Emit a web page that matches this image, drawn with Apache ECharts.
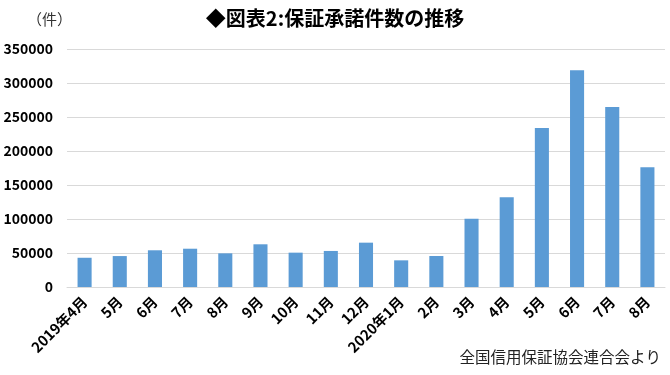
<!DOCTYPE html>
<html><head><meta charset="utf-8">
<script src="https://cdn.jsdelivr.net/npm/echarts@6/dist/echarts.min.js"></script>
<style>html,body{margin:0;padding:0;background:#fff}#c{width:670px;height:375px}</style>
</head><body><div id="c"></div>
<script>
const categories = ['2019年4月','5月','6月','7月','8月','9月','10月','11月','12月','2020年1月','2月','3月','4月','5月','6月','7月','8月'];
const values = [43000,45500,54000,56300,49500,62800,50500,53000,65200,39200,45600,100500,131900,233800,318600,264700,176000];
const yTicks = [0,50000,100000,150000,200000,250000,300000,350000];
const titleText = '◆図表2:保証承諾件数の推移';
const unitText = '（件）';
const sourceText = '全国信用保証協会連合会より';
const F = '"Noto Sans CJK JP", "Noto Sans", sans-serif';
const chart = echarts.init(document.getElementById('c'), null, {renderer:'canvas'});
chart.setOption({
  animation:false,
  backgroundColor:'#fff',
  title:[
    {text:titleText, left:'center', top:3, textStyle:{fontFamily:F, fontSize:20, fontWeight:'bold', color:'#000'}},
    {text:unitText, left:22, top:7, textStyle:{fontFamily:F, fontSize:15, fontWeight:'normal', color:'#333'}},
    {text:sourceText, right:4, bottom:5, textStyle:{fontFamily:F, fontSize:15.5, fontWeight:'normal', color:'#222'}}
  ],
  grid:{left:67, right:5, top:49, bottom:88, containLabel:false},
  xAxis:{type:'category', data:categories,
    axisLine:{lineStyle:{color:'#d9d9d9'}}, axisTick:{show:false},
    axisLabel:{rotate:45, interval:0, margin:12, fontFamily:F, fontSize:14.5, fontWeight:'bold', color:'#000'}},
  yAxis:{type:'value', min:yTicks[0], max:yTicks[yTicks.length-1], interval:50000,
    axisLine:{show:false}, axisTick:{show:false},
    splitLine:{lineStyle:{color:'#d9d9d9', width:1}},
    axisLabel:{margin:14, fontFamily:F, fontSize:14, fontWeight:'bold', color:'#000', formatter:function(v){return String(v);}}},
  series:[{type:'bar', data:values, barWidth:'40%', itemStyle:{color:'#5b9bd5'}}]
});
</script></body></html>
